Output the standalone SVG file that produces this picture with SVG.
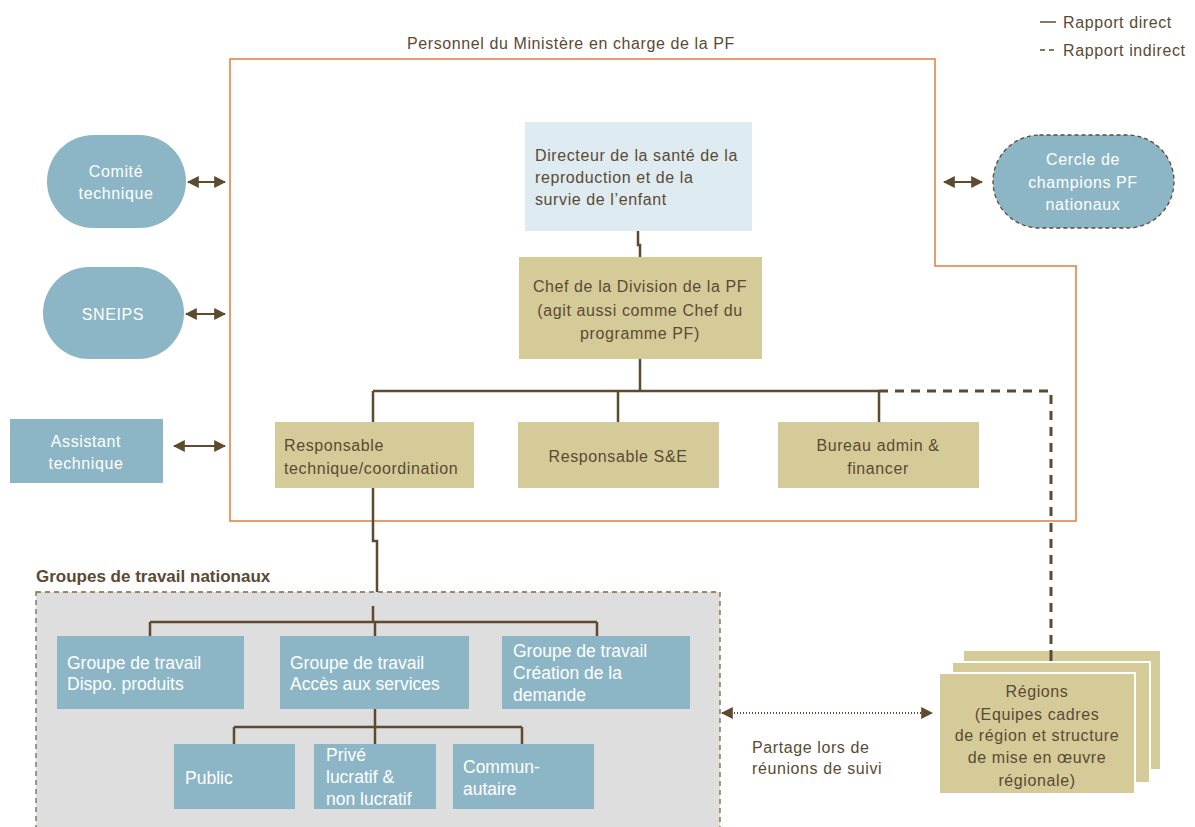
<svg xmlns="http://www.w3.org/2000/svg" width="1195" height="827" viewBox="0 0 1195 827">
<defs>
<style>
text{font-family:"Liberation Sans",Arial,sans-serif;font-size:16px;letter-spacing:0.6px;fill:#5b4a33}
.w{fill:#ffffff}
.c{text-anchor:middle}
.g{font-size:17.5px;letter-spacing:0;fill:#ffffff}
.b{font-weight:bold;font-size:17px;letter-spacing:0}
.blue{fill:#8cb6c6}
.tan{fill:#d4cb98}
.ln{fill:none;stroke:#5e4b2f;stroke-width:2.5}
.dash{fill:none;stroke:#5e4b2f;stroke-width:3;stroke-dasharray:9,7}
.arr{fill:none;stroke:#5e4b2f;stroke-width:2;marker-start:url(#ah);marker-end:url(#ah)}
</style>
<marker id="ah" viewBox="0 0 10 10" refX="9" refY="5" markerWidth="6" markerHeight="6" orient="auto-start-reverse" markerUnits="strokeWidth">
<path d="M0,0 L10,5 L0,10 z" fill="#5e4b2f"/>
</marker>
</defs>
<rect width="1195" height="827" fill="#ffffff"/>

<g id="legend">
<line x1="1040" y1="22" x2="1056" y2="22" stroke="#5e4b2f" stroke-width="1.5"/>
<text x="1063" y="28">Rapport direct</text>
<line x1="1040" y1="50" x2="1056" y2="50" stroke="#5e4b2f" stroke-width="1.5" stroke-dasharray="5,4"/>
<text x="1063" y="56">Rapport indirect</text>
</g>

<g id="ministere">
<text x="407" y="49">Personnel du Ministère en charge de la PF</text>
<path d="M230,59 L935,59 L935,266 L1076,266 L1076,521 L230,521 Z" fill="none" stroke="#de7f42" stroke-width="1.5"/>
</g>

<g id="groupes-frame">
<text class="b" x="36" y="582">Groupes de travail nationaux</text>
<rect x="36" y="592" width="684" height="245" fill="#dedede" stroke="#7a654a" stroke-width="1.3" stroke-dasharray="5,4"/>
</g>

<g id="connectors">
<path class="ln" d="M638,231 L638,245 L640,245 L640,258"/>
<path class="ln" d="M640,359 L640,391 M373,391 L879,391 M373,391 L373,422 M618,391 L618,422 M879,391 L879,422"/>
<path class="dash" d="M879,391 L1051,391 L1051,660"/>
<path class="ln" d="M373,488 L373,541 L377,541 L377,592"/>
<path class="ln" d="M373,606 L373,622 M150,622 L597,622 M150,622 L150,636 M375,622 L375,636 M597,622 L597,636"/>
<path class="ln" d="M375,709 L375,727 M234,727 L522,727 M234,727 L234,744 M375,727 L375,744 M522,727 L522,744"/>
<line class="arr" x1="188" y1="182" x2="225" y2="182"/>
<line class="arr" x1="186" y1="314" x2="225" y2="314"/>
<line class="arr" x1="174" y1="446" x2="225" y2="446"/>
<line class="arr" x1="944" y1="182" x2="982" y2="182"/>
<line x1="722" y1="713" x2="932" y2="713" stroke="#5e4b2f" stroke-width="2" stroke-dasharray="1,2" marker-start="url(#ah)" marker-end="url(#ah)"/>
</g>

<g id="comite">
<rect class="blue" x="47" y="135" width="139" height="93" rx="46.5"/>
<text class="w c" x="116" y="177">Comité</text>
<text class="w c" x="116" y="199">technique</text>
</g>

<g id="sneips">
<rect class="blue" x="43" y="267" width="141" height="92" rx="46"/>
<text class="w c" x="113" y="320">SNEIPS</text>
</g>

<g id="assistant">
<rect class="blue" x="10" y="419" width="153" height="64"/>
<text class="w c" x="86" y="447">Assistant</text>
<text class="w c" x="86" y="469">technique</text>
</g>

<g id="cercle">
<rect class="blue" x="993" y="135" width="181" height="93" rx="46.5" stroke="#5e4b2f" stroke-width="1.3" stroke-dasharray="4,3"/>
<text class="w c" x="1083" y="165">Cercle de</text>
<text class="w c" x="1083" y="188">champions PF</text>
<text class="w c" x="1083" y="210">nationaux</text>
</g>

<g id="directeur">
<rect x="525" y="122" width="227" height="109" fill="#deebf0"/>
<text x="535" y="161">Directeur de la santé de la</text>
<text x="535" y="183">reproduction et de la</text>
<text x="535" y="205">survie de l’enfant</text>
</g>

<g id="chef">
<rect class="tan" x="519" y="257" width="243" height="102"/>
<text class="c" x="640" y="292">Chef de la Division de la PF</text>
<text class="c" x="640" y="316">(agit aussi comme Chef du</text>
<text class="c" x="640" y="339">programme PF)</text>
</g>

<g id="resp-tech">
<rect class="tan" x="275" y="422" width="199" height="66"/>
<text x="284" y="451">Responsable</text>
<text x="284" y="474">technique/coordination</text>
</g>

<g id="resp-se">
<rect class="tan" x="518" y="422" width="201" height="66"/>
<text class="c" x="618" y="462">Responsable S&amp;E</text>
</g>

<g id="bureau">
<rect class="tan" x="778" y="422" width="201" height="66"/>
<text class="c" x="878" y="451">Bureau admin &amp;</text>
<text class="c" x="878" y="474">financer</text>
</g>

<g id="gt-dispo">
<rect class="blue" x="57" y="636" width="187" height="73"/>
<text class="g" x="67" y="669">Groupe de travail</text>
<text class="g" x="67" y="690">Dispo. produits</text>
</g>

<g id="gt-acces">
<rect class="blue" x="280" y="636" width="189" height="73"/>
<text class="g" x="290" y="669">Groupe de travail</text>
<text class="g" x="290" y="690">Accès aux services</text>
</g>

<g id="gt-creation">
<rect class="blue" x="502" y="636" width="188" height="73"/>
<text class="g" x="513" y="657">Groupe de travail</text>
<text class="g" x="513" y="679">Création de la</text>
<text class="g" x="513" y="701">demande</text>
</g>

<g id="public">
<rect class="blue" x="174" y="744" width="121" height="65"/>
<text class="g" x="185" y="784">Public</text>
</g>

<g id="prive">
<rect class="blue" x="314" y="744" width="122" height="65"/>
<text class="g" x="326" y="761">Privé</text>
<text class="g" x="326" y="783">lucratif &amp;</text>
<text class="g" x="326" y="805">non lucratif</text>
</g>

<g id="communautaire">
<rect class="blue" x="453" y="744" width="141" height="65"/>
<text class="g" x="463" y="773">Commun-</text>
<text class="g" x="463" y="795">autaire</text>
</g>

<g id="partage">
<text x="752" y="753">Partage lors de</text>
<text x="752" y="774">réunions de suivi</text>
</g>

<g id="regions">
<rect class="tan" x="963" y="650" width="198" height="120" stroke="#ffffff" stroke-width="2"/>
<line x1="1051" y1="650" x2="1051" y2="662" stroke="#5e4b2f" stroke-width="3"/>
<rect class="tan" x="952" y="662" width="198" height="121" stroke="#ffffff" stroke-width="2"/>
<rect class="tan" x="939" y="673" width="196" height="121" stroke="#ffffff" stroke-width="2"/>
<text class="c" x="1037" y="697">Régions</text>
<text class="c" x="1037" y="720">(Equipes cadres</text>
<text class="c" x="1037" y="741">de région et structure</text>
<text class="c" x="1037" y="763">de mise en œuvre</text>
<text class="c" x="1037" y="786">régionale)</text>
</g>
</svg>
